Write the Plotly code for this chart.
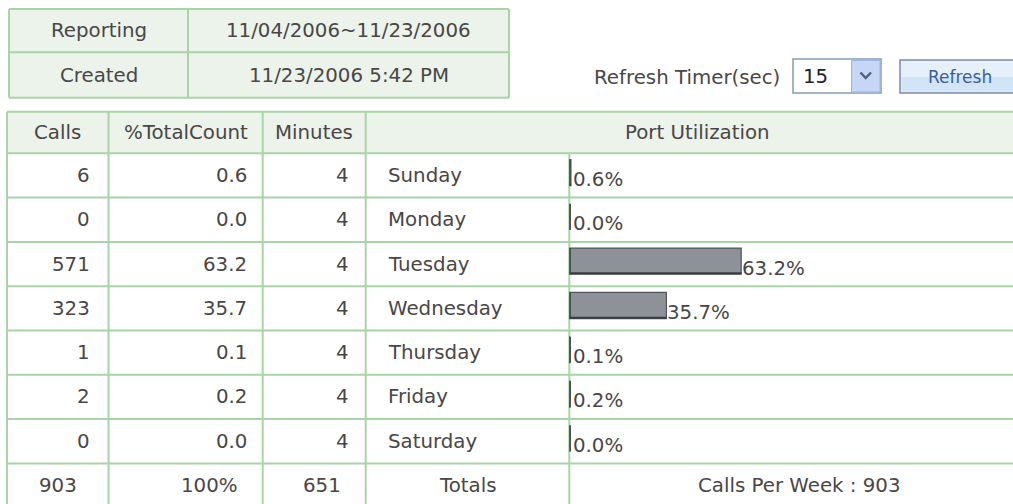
import plotly.graph_objects as go

# ---------------- data ----------------
info_labels = ["Reporting", "Created"]
info_values = ["11/04/2006~11/23/2006", "11/23/2006 5:42 PM"]

headers = ["Calls", "%TotalCount", "Minutes", "Port Utilization"]
days = ["Sunday", "Monday", "Tuesday", "Wednesday", "Thursday", "Friday", "Saturday"]
calls = [6, 0, 571, 323, 1, 2, 0]
pct_total = [0.6, 0.0, 63.2, 35.7, 0.1, 0.2, 0.0]
minutes = [4, 4, 4, 4, 4, 4, 4]
totals = ["903", "100%", "651", "Totals", "Calls Per Week : 903"]

refresh_label = "Refresh Timer(sec)"
refresh_value = "15"
button_label = "Refresh"

# ---------------- style / layout ----------------
W, H = 1013, 504
FONT = "DejaVu Sans"
FS = 19.8
TXT = "#4a4646"
BORDER = "#a9d4a5"
HDR_FILL = "#ebf3ea"
LW = 2

# top info table geometry (pixels)
tx0, txs, tx1 = 9, 188, 509
ty0, tym, ty1 = 9, 52.3, 97.7
# main table geometry (pixels)
cols = [7, 108.5, 262.7, 365.7, 569.3, 1029]
my0 = 111.7
hdr_b = 153.3
row_h = 44.3
n = len(days)
rows_y = [hdr_b + i * row_h for i in range(n + 2)]  # boundaries incl totals row

PX_PER_PCT = 2.72

fig = go.Figure()

shapes = []
ann = []

def line(x0, y0, x1, y1, color=BORDER, width=LW):
    shapes.append(dict(type="line", xref="x", yref="y", x0=x0, y0=y0, x1=x1, y1=y1,
                       line=dict(color=color, width=width), layer="below"))

def rect(x0, y0, x1, y1, fill, lc=None, lw=0, layer="below"):
    shapes.append(dict(type="rect", xref="x", yref="y", x0=x0, y0=y0, x1=x1, y1=y1,
                       fillcolor=fill, line=dict(color=lc or fill, width=lw), layer=layer))

def text(x, y, s, anchor="center", size=FS, color=TXT):
    ann.append(dict(xref="x", yref="y", x=x, y=y, text=s, showarrow=False,
                    xanchor=anchor, yanchor="middle",
                    font=dict(family=FONT, size=size, color=color)))

# ---- top info table ----
rect(tx0, ty0, tx1, ty1, HDR_FILL)
for y in (ty0, tym, ty1):
    line(tx0, y, tx1, y)
for x in (tx0, txs, tx1):
    line(x, ty0, x, ty1)
for i, (lab, val) in enumerate(zip(info_labels, info_values)):
    yc = (ty0 + tym) / 2 if i == 0 else (tym + ty1) / 2
    text((tx0 + txs) / 2, yc, lab)
    text((txs + tx1) / 2, yc, val)

# ---- refresh controls ----
text(592, 77, refresh_label, anchor="left")
rect(793, 59, 881, 93, "#ffffff", "#7f9db9", 1.5, layer="above")
rect(851.5, 60.5, 880, 92, "#c6d6f6", "#9fb4e2", 1, layer="above")
text(801, 76, refresh_value, anchor="left", color="#222222")
shapes.append(dict(type="path", xref="x", yref="y",
                   path="M 860.5 72.5 L 865.7 78 L 871 72.5",
                   line=dict(color="#4d6185", width=2.5), layer="above"))
rect(900, 60, 1030, 93, "#e6f0fb", "#7b8ba5", 1.5, layer="above")
rect(901.5, 77, 1030, 91.5, "#d2e4f7", "#d2e4f7", 0, layer="above")
text(960, 77, button_label, size=17, color="#3d5c9e")

# ---- main table ----
rect(cols[0], my0, cols[-1], hdr_b, HDR_FILL)
line(cols[0], my0, cols[-1], my0)
for y in rows_y:
    line(cols[0], y, cols[-1], y)
for x in cols[:4]:
    line(x, my0, x, rows_y[-1])
line(cols[4], hdr_b, cols[4], rows_y[-1])

hy = (my0 + hdr_b) / 2
for j, h in enumerate(headers[:3]):
    text((cols[j] + cols[j + 1]) / 2, hy, h)
text((cols[3] + cols[5]) / 2, hy, headers[3])

for i in range(n):
    yc = rows_y[i] + row_h / 2
    text(92, yc, str(calls[i]), anchor="right")
    text(248.5, yc, f"{pct_total[i]:.1f}", anchor="right")
    text(351, yc, str(minutes[i]), anchor="right")
    text(386, yc, days[i], anchor="left")

ty = rows_y[n] + row_h / 2
text((cols[0] + cols[1]) / 2, ty, totals[0])
text(239.5, ty, totals[1], anchor="right")
text(343, ty, totals[2], anchor="right")
text((cols[3] + cols[4]) / 2, ty, totals[3])
text((cols[4] + cols[5]) / 2, ty, totals[4])

# ---- bars (Port Utilization) ----
bar_w = 0.59
fig.add_trace(go.Bar(
    x=pct_total, y=days, orientation="h", xaxis="x2", yaxis="y2",
    width=bar_w, offset=-bar_w / 2 - 0.065,
    marker=dict(color="#8c9298", line=dict(color="#505458", width=1.2)),
    hoverinfo="skip", showlegend=False,
))
for i, d in enumerate(days):
    # left edge tick of every bar image
    shapes.append(dict(type="line", xref="x2", yref="y2", x0=0.25, x1=0.25,
                       y0=i - bar_w / 2 - 0.065, y1=i + bar_w / 2 - 0.065,
                       line=dict(color="#4a4e52", width=2), layer="above"))
    # dark bottom edge of bar image
    if pct_total[i] > 0:
        shapes.append(dict(type="line", xref="x2", yref="y2", x0=0, x1=pct_total[i],
                           y0=i + bar_w / 2 - 0.085, y1=i + bar_w / 2 - 0.085,
                           line=dict(color="#3a3d40", width=2), layer="above"))
    ann.append(dict(xref="x2", yref="y2", x=max(pct_total[i], 0.9), y=d,
                    text=f"{pct_total[i]:.1f}%", showarrow=False,
                    xanchor="left", yanchor="middle", yshift=-4, xshift=-1,
                    font=dict(family=FONT, size=FS, color=TXT)))

x2_dom0 = cols[4] / W
x2_span_px = W - cols[4]
y2_top = 1 - hdr_b / H
y2_bot = 1 - rows_y[n] / H

fig.update_layout(
    width=W, height=H,
    margin=dict(l=0, r=0, t=0, b=0),
    paper_bgcolor="white", plot_bgcolor="rgba(0,0,0,0)",
    xaxis=dict(range=[0, W], visible=False, fixedrange=True, domain=[0, 1]),
    yaxis=dict(range=[H, 0], visible=False, fixedrange=True, domain=[0, 1]),
    xaxis2=dict(range=[0, x2_span_px / PX_PER_PCT], domain=[x2_dom0, 1],
                anchor="y2", visible=False, fixedrange=True),
    yaxis2=dict(domain=[y2_bot, y2_top], anchor="x2", visible=False,
                categoryorder="array", categoryarray=days,
                range=[n - 0.5, -0.5], fixedrange=True),
    shapes=shapes, annotations=ann,
    font=dict(family=FONT, size=FS, color=TXT),
    showlegend=False,
)

fig.write_html(
    "out.html",
    config={"displayModeBar": False},
    post_script="document.body.style.margin='0';document.body.style.overflow='hidden';",
)
